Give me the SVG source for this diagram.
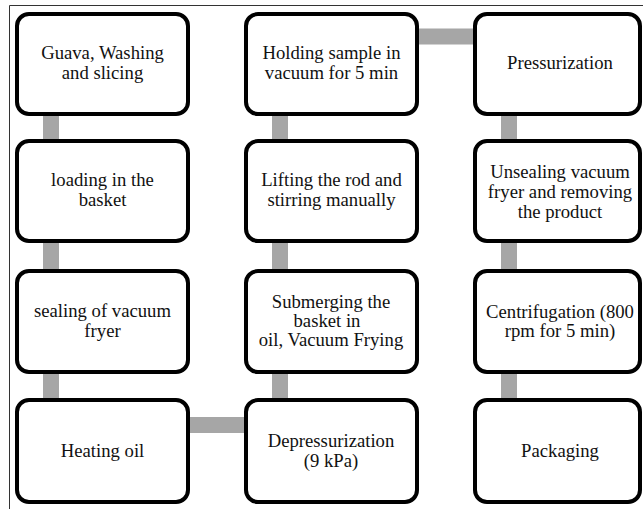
<svg xmlns="http://www.w3.org/2000/svg" width="643" height="509" viewBox="0 0 643 509">
<style>
.box{fill:#fff;stroke:#000;stroke-width:4}
.bar{fill:#a6a6a6}
.frame{stroke:#333;stroke-width:1;fill:none}
text{font-size:18.7px;fill:#111;text-anchor:middle}
</style>
<rect width="643" height="509" fill="#fff"/>
<path class="frame" d="M9.5,509 V5.5 H643"/>
<g id="connectors">
<rect class="bar" x="43" y="110" width="16" height="300"/>
<rect class="bar" x="272" y="110" width="16" height="300"/>
<rect class="bar" x="501" y="110" width="16" height="300"/>
<rect class="bar" x="185" y="417" width="65" height="16"/>
<rect class="bar" x="414" y="28.5" width="65" height="16"/>
</g>
<g font-family="Liberation Serif, DejaVu Serif, serif">
<g id="n1"><rect class="box" x="17" y="14" width="171" height="100" rx="12"/><text x="102.5" y="59">Guava, Washing</text><text x="102.5" y="79">and slicing</text></g>
<g id="n2"><rect class="box" x="17" y="141" width="171" height="100" rx="12"/><text x="102.5" y="186">loading in the</text><text x="102.5" y="206">basket</text></g>
<g id="n3"><rect class="box" x="17" y="271" width="171" height="101" rx="12"/><text x="102.5" y="317">sealing of vacuum</text><text x="102.5" y="337">fryer</text></g>
<g id="n4"><rect class="box" x="17" y="400" width="171" height="102" rx="12"/><text x="102.5" y="457">Heating oil</text></g>
<g id="n5"><rect class="box" x="246" y="400" width="171" height="102" rx="12"/><text x="331" y="447">Depressurization</text><text x="331" y="467">(9 kPa)</text></g>
<g id="n6"><rect class="box" x="246" y="271" width="171" height="101" rx="12"/><text x="331" y="308">Submerging the</text><text x="327" y="327">basket in</text><text x="331" y="346">oil, Vacuum Frying</text></g>
<g id="n7"><rect class="box" x="246" y="141" width="171" height="100" rx="12"/><text x="331.5" y="186">Lifting the rod and</text><text x="331.5" y="206">stirring manually</text></g>
<g id="n8"><rect class="box" x="246" y="14" width="171" height="100" rx="12"/><text x="331.5" y="59">Holding sample in</text><text x="331.5" y="79">vacuum for 5 min</text></g>
<g id="n9"><rect class="box" x="475" y="14" width="165" height="100" rx="12"/><text x="560" y="69">Pressurization</text></g>
<g id="n10"><rect class="box" x="475" y="141" width="165" height="100" rx="12"/><text x="560" y="178">Unsealing vacuum</text><text x="560" y="198">fryer and removing</text><text x="560" y="218">the product</text></g>
<g id="n11"><rect class="box" x="475" y="271" width="165" height="101" rx="12"/><text x="560" y="318">Centrifugation (800</text><text x="560" y="337">rpm for 5 min)</text></g>
<g id="n12"><rect class="box" x="475" y="400" width="165" height="102" rx="12"/><text x="560" y="457">Packaging</text></g>
</g>
</svg>
